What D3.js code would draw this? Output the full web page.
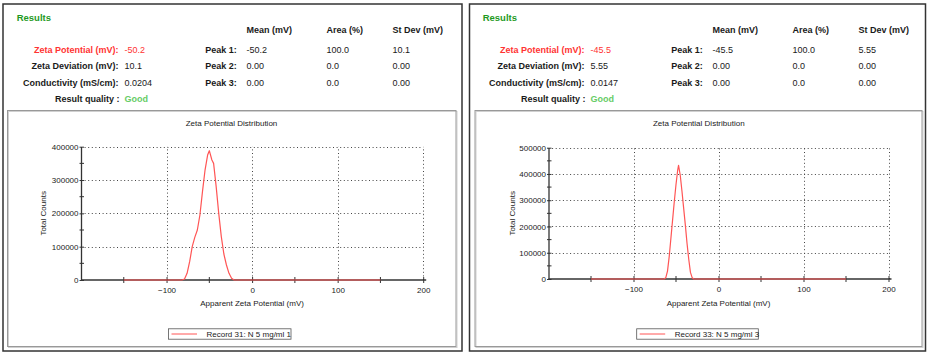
<!DOCTYPE html>
<html>
<head>
<meta charset="utf-8">
<script src="https://cdn.jsdelivr.net/npm/d3@7"></script>
<style>
  body { margin: 0; background: #fff; }
  svg { display: block; font-family: "Liberation Sans", Arial, sans-serif; }
</style>
</head>
<body>
<svg id="chart" width="930" height="356"></svg>
<script>
// ---------- DATA ----------
const resultLabels = ["Zeta Potential (mV):", "Zeta Deviation (mV):", "Conductivity (mS/cm):"];
const qualityLabel = "Result quality :";
const peakLabels = ["Peak 1:", "Peak 2:", "Peak 3:"];
const peakHeaders = ["Mean (mV)", "Area (%)", "St Dev (mV)"];

const results1 = ["-50.2", "10.1", "0.0204"];
const quality1 = "Good";
const peaks1 = [["-50.2", "100.0", "10.1"], ["0.00", "0.0", "0.00"], ["0.00", "0.0", "0.00"]];

const results2 = ["-45.5", "5.55", "0.0147"];
const quality2 = "Good";
const peaks2 = [["-45.5", "100.0", "5.55"], ["0.00", "0.0", "0.00"], ["0.00", "0.0", "0.00"]];

const chartTitle = "Zeta Potential Distribution";
const xAxisTitle = "Apparent Zeta Potential (mV)";
const yAxisTitle = "Total Counts";

const xTicks = [-100, 0, 100, 200];
const xMinorTicks = [-150, -50, 50, 150];
const yTicks1 = [0, 100000, 200000, 300000, 400000];
const yTicks2 = [0, 100000, 200000, 300000, 400000, 500000];

const legend1 = "Record 31: N 5 mg/ml 1";
const legend2 = "Record 33: N 5 mg/ml 3";

// Series 1 (Record 31)
const zeta1 = [-150, -82, -79, -76, -73, -70, -67, -64, -61, -58, -55, -52, -50, -47, -45, -42, -39, -36, -33, -30, -27, -24, -21, 150];
const counts1 = [0, 0, 3000, 20000, 55000, 100000, 128000, 150000, 195000, 265000, 330000, 375000, 388000, 360000, 350000, 280000, 200000, 130000, 78000, 45000, 20000, 5000, 0, 0];

// Series 2 (Record 33)
const zeta2 = [-150, -64, -62, -60, -58, -56, -54, -52, -50, -48, -47, -45, -43, -41, -39, -37, -35, -33, -31, -29, 150];
const counts2 = [0, 0, 5000, 30000, 85000, 155000, 225000, 295000, 360000, 415000, 433000, 395000, 335000, 270000, 205000, 135000, 75000, 25000, 5000, 0, 0];

// ---------- DRAW ----------
const svg = d3.select("#chart");
const textCol = "#1a1a1a";
const redCol = "#ff3333";
const greenDark = "#1f9a1f";
const greenLight = "#66cc66";
const curveCol = "#ff5555";

function panel(cfg) {
  const g = svg.append("g");
  // outer box
  g.append("rect").attr("x", cfg.outer[0]).attr("y", cfg.outer[1])
    .attr("width", cfg.outer[2]).attr("height", cfg.outer[3])
    .attr("fill", "none").attr("stroke", "#333").attr("stroke-width", 1.5);
  // inner chart box (with light shadow)
  const ib = cfg.inner;
  g.append("rect").attr("x", ib[0] + 1).attr("y", ib[1] + 1)
    .attr("width", ib[2]).attr("height", ib[3])
    .attr("fill", "none").attr("stroke", "#d0d0d0").attr("stroke-width", 1);
  g.append("rect").attr("x", ib[0]).attr("y", ib[1])
    .attr("width", ib[2]).attr("height", ib[3])
    .attr("fill", "none").attr("stroke", "#999").attr("stroke-width", 1);

  // results block
  const tx = cfg.tx;
  g.append("text").attr("x", tx + 16.7).attr("y", 20.5).text("Results")
    .attr("font-size", 9.5).attr("font-weight", "bold").attr("fill", greenDark);
  const rowsY = [52.7, 69, 85.5, 102];
  const colX = [tx + 246.5, tx + 326.5, tx + 392.5];
  peakHeaders.forEach((h, i) => {
    g.append("text").attr("x", colX[i]).attr("y", 33.3).text(h)
      .attr("font-size", 9).attr("font-weight", "bold").attr("fill", textCol);
  });
  resultLabels.forEach((l, i) => {
    g.append("text").attr("x", tx + 118.5).attr("y", rowsY[i]).text(l)
      .attr("text-anchor", "end").attr("font-size", 9).attr("font-weight", "bold")
      .attr("fill", i === 0 ? redCol : textCol);
    g.append("text").attr("x", tx + 124.5).attr("y", rowsY[i]).text(cfg.results[i])
      .attr("font-size", 9).attr("fill", i === 0 ? redCol : textCol);
  });
  g.append("text").attr("x", tx + 119.5).attr("y", rowsY[3]).text(qualityLabel)
    .attr("text-anchor", "end").attr("font-size", 9).attr("font-weight", "bold").attr("fill", textCol);
  g.append("text").attr("x", tx + 124.5).attr("y", rowsY[3]).text(cfg.quality)
    .attr("font-size", 9).attr("font-weight", "bold").attr("fill", greenLight);
  peakLabels.forEach((l, i) => {
    g.append("text").attr("x", tx + 236.7).attr("y", rowsY[i]).text(l)
      .attr("text-anchor", "end").attr("font-size", 9).attr("font-weight", "bold").attr("fill", textCol);
    cfg.peaks[i].forEach((v, j) => {
      g.append("text").attr("x", colX[j]).attr("y", rowsY[i]).text(v)
        .attr("font-size", 9).attr("fill", textCol);
    });
  });

  // scales
  const x = d3.scaleLinear().domain([-200, 200]).range(cfg.xr);
  const y = d3.scaleLinear().domain([0, cfg.yMax]).range(cfg.yr);
  const yMinor = d3.range(50000, cfg.yMax, 100000);

  // title
  g.append("text").attr("x", cfg.titleX).attr("y", 125.7).text(chartTitle)
    .attr("text-anchor", "middle").attr("font-size", 8).attr("fill", textCol);

  // grid (dotted)
  const grid = g.append("g").attr("stroke", "#444").attr("stroke-width", 1)
    .attr("stroke-dasharray", "1,2.6");
  cfg.yTicks.filter(d => d > 0).forEach(d => {
    grid.append("line").attr("x1", x(-200)).attr("x2", x(200))
      .attr("y1", Math.round(y(d)) + 0.5).attr("y2", Math.round(y(d)) + 0.5);
  });
  xTicks.forEach(d => {
    grid.append("line").attr("x1", Math.round(x(d)) + 0.5).attr("x2", Math.round(x(d)) + 0.5)
      .attr("y1", y(0)).attr("y2", y(cfg.yMax));
  });

  // x axis
  const xa = g.append("g").attr("transform", `translate(0,${y(0)})`)
    .call(d3.axisBottom(x).tickValues(xTicks).tickSize(3).tickPadding(4).tickSizeOuter(0)
      .tickFormat(d3.format("d")));
  xa.select(".domain").attr("stroke", "#333").attr("stroke-width", 1.3)
    .attr("d", `M${x(-200)},0H${x(200) + 3}`);
  xa.selectAll(".tick line").attr("y1", -3).attr("stroke", "#333");
  xa.selectAll(".tick text").attr("font-size", 8).attr("fill", textCol)
    .attr("font-family", "Liberation Sans, Arial, sans-serif");
  xMinorTicks.forEach(d => {
    xa.append("line").attr("x1", x(d)).attr("x2", x(d)).attr("y1", -3).attr("y2", 3).attr("stroke", "#333");
  });

  // y axis
  const ya = g.append("g").attr("transform", `translate(${x(-200)},0)`)
    .call(d3.axisLeft(y).tickValues(cfg.yTicks).tickSize(1.5).tickPadding(1).tickSizeOuter(0)
      .tickFormat(d3.format("d")));
  ya.select(".domain").attr("stroke", "#333").attr("stroke-width", 1.3);
  ya.selectAll(".tick line").attr("x2", -1.5).attr("x1", 3).attr("stroke", "#333");
  ya.selectAll(".tick text").attr("font-size", 8).attr("fill", textCol)
    .attr("font-family", "Liberation Sans, Arial, sans-serif");
  yMinor.forEach(d => {
    ya.append("line").attr("x1", -1.5).attr("x2", 3).attr("y1", y(d)).attr("y2", y(d)).attr("stroke", "#333");
  });

  // axis titles
  g.append("text").attr("x", (cfg.xr[0] + cfg.xr[1]) / 2 + 0).attr("y", 305.5).text(xAxisTitle)
    .attr("text-anchor", "middle").attr("font-size", 8).attr("fill", textCol);
  g.append("text").attr("transform", `translate(${cfg.yTitleX},${(cfg.yr[0] + cfg.yr[1]) / 2}) rotate(-90)`)
    .text(yAxisTitle).attr("text-anchor", "middle").attr("font-size", 8).attr("fill", textCol);

  // curve
  const line = d3.line().x(d => x(d[0])).y(d => y(d[1]));
  g.append("path").datum(cfg.xs.map((v, i) => [v, cfg.ys[i]]))
    .attr("d", line).attr("fill", "none").attr("stroke", curveCol).attr("stroke-width", 1.2)
    .attr("stroke-linejoin", "round");

  // legend
  const lg = cfg.legend;
  g.append("rect").attr("x", lg[0]).attr("y", 328.8).attr("width", lg[1]).attr("height", 10.4)
    .attr("fill", "#fff").attr("stroke", "#555").attr("stroke-width", 0.8);
  g.append("line").attr("x1", lg[0] + 3).attr("x2", lg[0] + 28.5).attr("y1", 334).attr("y2", 334)
    .attr("stroke", curveCol).attr("stroke-width", 1);
  g.append("text").attr("x", lg[0] + 38).attr("y", 337).text(cfg.legendText)
    .attr("font-size", 8).attr("fill", textCol);
}

panel({
  outer: [3, 4, 459, 347], inner: [7.5, 110.5, 448.5, 236], tx: 0,
  results: results1, quality: quality1, peaks: peaks1,
  xr: [81, 423.2], yr: [280, 146.7], yMax: 400000, yTicks: yTicks1,
  titleX: 231.5, yTitleX: 46, xs: zeta1, ys: counts1,
  legend: [168.5, 122.5], legendText: legend1
});
panel({
  outer: [469.5, 4, 456, 347], inner: [475, 110.5, 447, 236], tx: 466,
  results: results2, quality: quality2, peaks: peaks2,
  xr: [548.5, 888.5], yr: [279, 147.7], yMax: 500000, yTicks: yTicks2,
  titleX: 698.8, yTitleX: 514.5, xs: zeta2, ys: counts2,
  legend: [636.7, 121.6], legendText: legend2
});
</script>
</body>
</html>
